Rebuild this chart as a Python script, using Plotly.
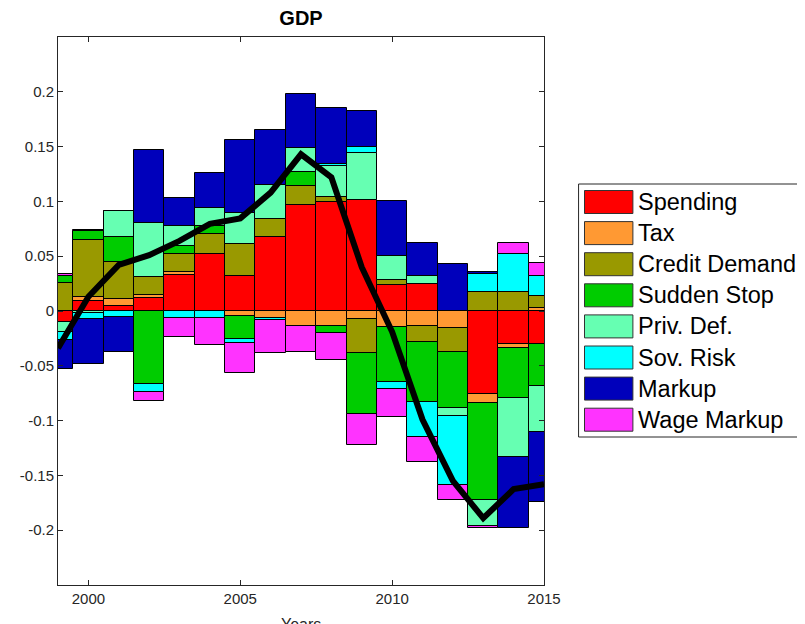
import plotly.graph_objects as go

years = list(range(1999, 2016))

series_names = ["Spending", "Tax", "Credit Demand", "Sudden Stop",
                "Priv. Def.", "Sov. Risk", "Markup", "Wage Markup"]
series_colors = ["#FF0000", "#FF9933", "#999900", "#00CC00",
                 "#66FFB2", "#00FFFF", "#0000BB", "#FF33FF"]

spending = [-0.010, 0.009, 0.005, 0.012, 0.033, 0.0517, 0.0316, 0.0677, 0.0963,
            0.0999, 0.1017, 0.0235, 0.0247, 0.0, -0.0761, -0.030, -0.030]
tax = [0.0, 0.004, 0.006, 0.003, 0.0024, 0.0, -0.005, -0.006, -0.0135,
       -0.0141, -0.0075, -0.0144, -0.0141, -0.0156, -0.0081, -0.0036, 0.0024]
credit_demand = [0.026, 0.0514, 0.0338, 0.016, 0.017, 0.019, 0.0292, 0.0166, 0.018,
                 0.0039, -0.0307, 0.0051, -0.0144, -0.0214, 0.0171, 0.0174, 0.0117]
sudden_stop = [0.0055, 0.0084, 0.0226, -0.0668, 0.007, 0.007, -0.0205, 0.0, 0.0126,
               -0.006, -0.056, -0.0502, -0.0548, -0.0517, -0.0878, -0.046, -0.0382]
priv_def = [-0.009, -0.002, 0.024, 0.0496, 0.018, 0.0166, 0.0289, 0.0307, 0.0217,
            0.0286, 0.0421, 0.022, 0.0075, -0.0069, -0.0241, -0.0532, -0.0424]
sov_risk = [-0.007, -0.0054, -0.0054, -0.0075, -0.0066, -0.006, -0.0036, -0.0024, 0.0,
            0.0018, 0.0057, -0.0066, -0.0316, -0.0632, 0.0168, 0.0346, 0.0175]
markup = [-0.027, -0.041, -0.032, 0.0659, 0.0256, 0.0316, 0.0662, 0.0499, 0.0493,
          0.0514, 0.0334, 0.0502, 0.0295, 0.0427, 0.0015, -0.0656, -0.0638]
wage_markup = [0.0025, 0.0012, 0.0, -0.0075, -0.0168, -0.025, -0.0274, -0.030, -0.024,
               -0.0244, -0.0283, -0.0256, -0.0226, -0.0135, -0.0018, 0.0096, 0.012]

gdp = [-0.034, 0.013, 0.042, 0.051, 0.064, 0.0795, 0.0845, 0.108, 0.143,
       0.122, 0.040, -0.019, -0.099, -0.155, -0.189, -0.1625, -0.158]

x_tick_vals = [2000, 2005, 2010, 2015]
y_tick_vals = [-0.2, -0.15, -0.1, -0.05, 0, 0.05, 0.1, 0.15, 0.2]
y_tick_text = ["-0.2", "-0.15", "-0.1", "-0.05", "0", "0.05", "0.1", "0.15", "0.2"]

all_series = [spending, tax, credit_demand, sudden_stop, priv_def, sov_risk, markup, wage_markup]

FONT = "Liberation Sans, Arial, Helvetica, sans-serif"
AX = "#262626"

fig = go.Figure()
for name, col, vals in zip(series_names, series_colors, all_series):
    fig.add_trace(go.Bar(x=years, y=vals, name=name, width=1,
                         marker=dict(color=col, line=dict(color="black", width=1)),
                         showlegend=False))
fig.add_trace(go.Scatter(x=years, y=gdp, mode="lines", name="GDP",
                         line=dict(color="black", width=6), showlegend=False))

# page body has an 8px margin: work in window pixels, shift into figure pixels
OFF = 8
WIN_W, WIN_H = 805, 624
W, H = WIN_W - OFF, WIN_H - OFF
PL, PR, PT, PB = 52 - OFF, 544 - OFF, 37 - OFF, 585 - OFF

def px(x):
    return (x - OFF - PL) / (PR - PL)

def py(y):
    return (PB - (y - OFF)) / (PB - PT)

shapes = []
annotations = []
shapes.append(dict(type="rect", xref="paper", yref="paper",
                   x0=px(579), x1=px(803), y0=py(437), y1=py(184),
                   line=dict(color=AX, width=1), fillcolor="white", layer="above"))
for i, (name, col) in enumerate(zip(series_names, series_colors)):
    cy = 202 + i * 31.1
    shapes.append(dict(type="rect", xref="paper", yref="paper",
                       x0=px(585), x1=px(634), y0=py(cy + 11.5), y1=py(cy - 11.5),
                       fillcolor=col, line=dict(color="#333333", width=1), layer="above"))
    annotations.append(dict(xref="paper", yref="paper", x=px(637), y=py(cy),
                            xanchor="left", yanchor="middle", text=name, showarrow=False,
                            font=dict(family=FONT, size=23.5, color="black")))

annotations.append(dict(xref="paper", yref="paper", x=px(298), y=py(614),
                        xanchor="center", yanchor="top", text="Years", showarrow=False,
                        font=dict(family=FONT, size=16, color=AX)))

fig.update_layout(
    width=W, height=H,
    margin=dict(l=PL, r=W - PR, t=PT, b=H - PB, pad=0),
    paper_bgcolor="white", plot_bgcolor="white",
    barmode="relative", bargap=0,
    title=dict(text="<b>GDP</b>", x=px(298), xref="paper", xanchor="center",
               y=1 - (18 - OFF) / H, yanchor="middle", yref="container",
               font=dict(family=FONT, size=20, color="black")),
    xaxis=dict(range=[1999, 2015], tickvals=x_tick_vals, ticks="inside", ticklen=5,
               tickcolor=AX, showline=True, linecolor=AX, linewidth=1, mirror="allticks",
               showgrid=False, zeroline=False,
               tickfont=dict(family=FONT, size=15, color=AX)),
    yaxis=dict(range=[-0.25, 0.25], tickvals=y_tick_vals, ticktext=y_tick_text,
               ticks="inside", ticklen=5, tickcolor=AX, showline=True, linecolor=AX,
               linewidth=1, mirror="allticks", showgrid=False, zeroline=False,
               tickfont=dict(family=FONT, size=15, color=AX)),
    shapes=shapes, annotations=annotations,
    showlegend=False,
)

fig.write_html("out.html")
